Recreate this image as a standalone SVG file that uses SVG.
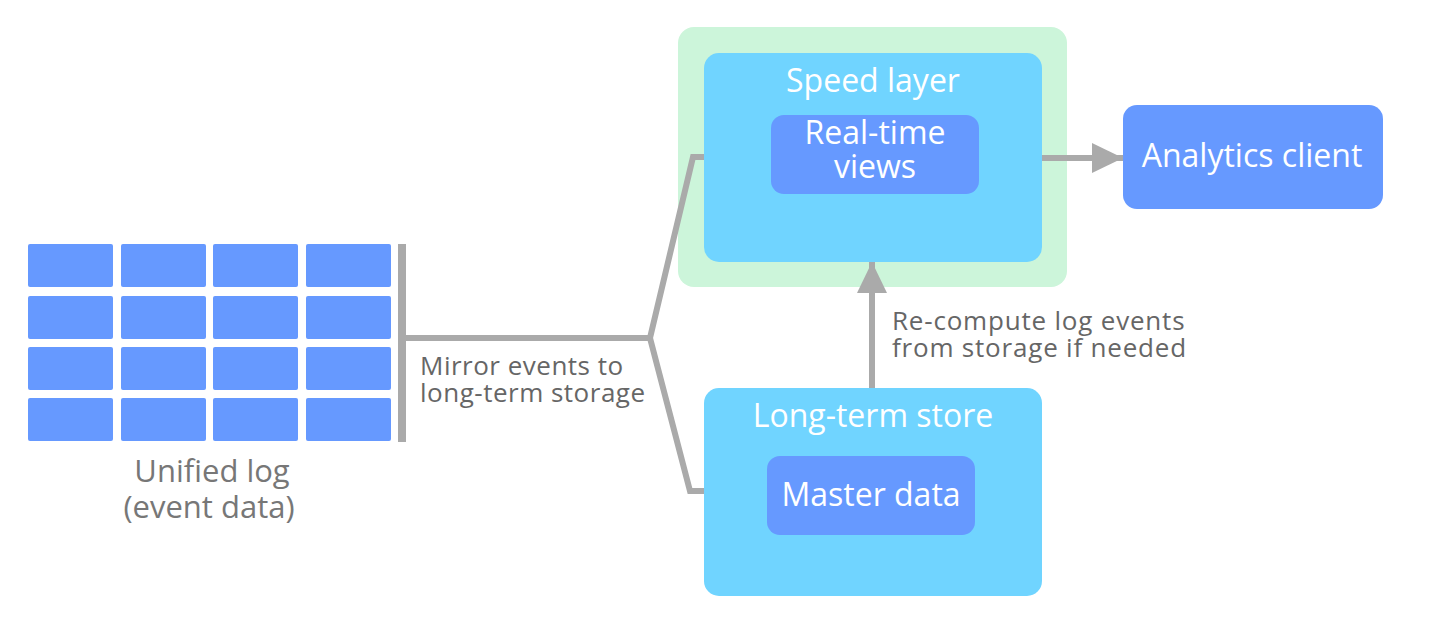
<svg xmlns="http://www.w3.org/2000/svg" width="1449" height="627" viewBox="0 0 1449 627">
<defs>
<style>
.cell{fill:#6699FF}
.outer{fill:#CCF5DA}
.box{fill:#70D4FF}
.inner{fill:#6699FF}
.lbl{font-family:"Open Sans","Noto Sans",sans-serif;fill:#FFFFFF;text-anchor:middle;font-size:32px}
.note{font-family:"Open Sans","Noto Sans",sans-serif;fill:#666666;font-size:26px;letter-spacing:0.5px}
.conn{fill:none;stroke:#AAAAAA;stroke-width:6}
</style>
<marker id="ah" markerUnits="userSpaceOnUse" markerWidth="32" markerHeight="30" refX="31" refY="15" orient="auto">
<path d="M0,0 L31,15 L0,30 Z" fill="#AAAAAA"/>
</marker>
</defs>
<rect width="1449" height="627" fill="#FFFFFF"/>
<g id="unified-log">
<rect class="cell" x="28" y="244" width="85" height="43" rx="2"/>
<rect class="cell" x="121" y="244" width="85" height="43" rx="2"/>
<rect class="cell" x="213" y="244" width="85" height="43" rx="2"/>
<rect class="cell" x="306" y="244" width="85" height="43" rx="2"/>
<rect class="cell" x="28" y="296" width="85" height="43" rx="2"/>
<rect class="cell" x="121" y="296" width="85" height="43" rx="2"/>
<rect class="cell" x="213" y="296" width="85" height="43" rx="2"/>
<rect class="cell" x="306" y="296" width="85" height="43" rx="2"/>
<rect class="cell" x="28" y="347" width="85" height="43" rx="2"/>
<rect class="cell" x="121" y="347" width="85" height="43" rx="2"/>
<rect class="cell" x="213" y="347" width="85" height="43" rx="2"/>
<rect class="cell" x="306" y="347" width="85" height="43" rx="2"/>
<rect class="cell" x="28" y="398" width="85" height="43" rx="2"/>
<rect class="cell" x="121" y="398" width="85" height="43" rx="2"/>
<rect class="cell" x="213" y="398" width="85" height="43" rx="2"/>
<rect class="cell" x="306" y="398" width="85" height="43" rx="2"/>
<text class="lbl" style="fill:#777777;font-size:31px"><tspan x="212" y="482">Unified log</tspan><tspan x="209" y="518">(event data)</tspan></text>
</g>
<g id="speed-layer">
<rect class="outer" x="678" y="27" width="389" height="260" rx="16"/>
<rect class="box" x="704" y="53" width="338" height="209" rx="15"/>
<text class="lbl" x="873" y="92">Speed layer</text>
</g>
<g id="real-time-views">
<rect class="inner" x="771" y="115" width="208" height="79" rx="13"/>
<text class="lbl"><tspan x="875" y="144">Real-time</tspan><tspan x="875" y="178">views</tspan></text>
</g>
<g id="analytics-client">
<rect class="inner" x="1123" y="105" width="260" height="104" rx="14"/>
<text class="lbl" x="1252" y="167">Analytics client</text>
</g>
<g id="long-term-store">
<rect class="box" x="704" y="388" width="338" height="208" rx="15"/>
<text class="lbl" x="873" y="427">Long-term store</text>
</g>
<g id="master-data">
<rect class="inner" x="767" y="456" width="208" height="79" rx="13"/>
<text class="lbl" x="871" y="506">Master data</text>
</g>
<g id="connectors">
<line x1="402" y1="244" x2="402" y2="442" stroke="#AAAAAA" stroke-width="8"/>
<path class="conn" d="M402,338 L650,338 L693,157 L704,157"/>
<path class="conn" d="M650,338 L690,491 L704,491"/>
<line class="conn" x1="1042" y1="158" x2="1123" y2="158" marker-end="url(#ah)"/>
<line class="conn" x1="872" y1="388" x2="872" y2="262" marker-end="url(#ah)"/>
<text class="note"><tspan x="420" y="375">Mirror events to</tspan><tspan x="420" y="402">long-term storage</tspan></text>
<text class="note" style="letter-spacing:0.8px"><tspan x="892" y="330">Re-compute log events</tspan><tspan x="892" y="357">from storage if needed</tspan></text>
</g>
</svg>
